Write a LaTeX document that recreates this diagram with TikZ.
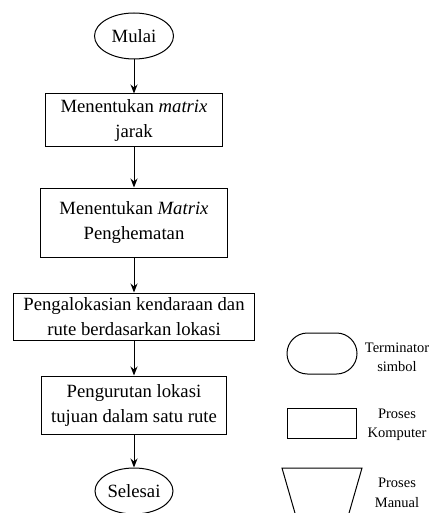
\documentclass[tikz,border=0pt]{standalone}
\usepackage{fontspec}
\setmainfont{Liberation Serif}
\usetikzlibrary{arrows.meta,shapes.geometric,shapes.misc}
\begin{document}
\begin{tikzpicture}[x=1pt,y=-1pt,
  line width=1pt,
  flowtext/.style={font=\fontsize{18.7}{25}\selectfont, align=center, inner sep=0pt},
  term/.style={draw, ellipse, flowtext, minimum width=79pt, minimum height=46pt},
  procbox/.style={draw, rectangle, flowtext},
  legtext/.style={font=\fontsize{14.5}{19.5}\selectfont, align=center, inner sep=0pt},
  arr/.style={-{Stealth[length=9pt,width=7pt]}}
]
\useasboundingbox (0,0) rectangle (436,513);
% main flow
\node[term] (mulai) at (134,36) {Mulai};
\node[procbox, minimum width=177pt, minimum height=53pt] (b1) at (134,120.5) {Menentukan \textit{matrix}\\jarak};
\node[procbox, minimum width=187pt, minimum height=69pt] (b2) at (134,222.5) {Menentukan \textit{Matrix}\\Penghematan};
\node[procbox, minimum width=241pt, minimum height=47pt] (b3) at (134,316.5) {Pengalokasian kendaraan dan\\rute berdasarkan lokasi};
\node[procbox, minimum width=185pt, minimum height=58pt] (b4) at (134,405) {Pengurutan lokasi\\tujuan dalam satu rute};
\node[term, minimum width=78pt] (selesai) at (134,491) {Selesai};
\draw[arr] (mulai) -- (b1);
\draw[arr] (b1) -- (b2);
\draw[arr] (b2) -- (b3);
\draw[arr] (b3) -- (b4);
\draw[arr] (b4) -- (selesai);
% legend
\node[draw, rounded rectangle, minimum width=70pt, minimum height=41pt, inner sep=0pt] (lterm) at (322,353.5) {};
\node[legtext] (ltermtxt) at (397,357.5) {Terminator\\simbol};
\node[draw, rectangle, minimum width=69pt, minimum height=30pt, inner sep=0pt] (lproc) at (321.5,423) {};
\node[legtext] (lproctxt) at (397,425) {Proses\\Komputer};
\draw (282,468) -- (362,468) -- (340.4,543) -- (303.6,543) -- cycle;
\node[legtext] (lmantxt) at (397,493) {Proses\\Manual};
\end{tikzpicture}
\end{document}
